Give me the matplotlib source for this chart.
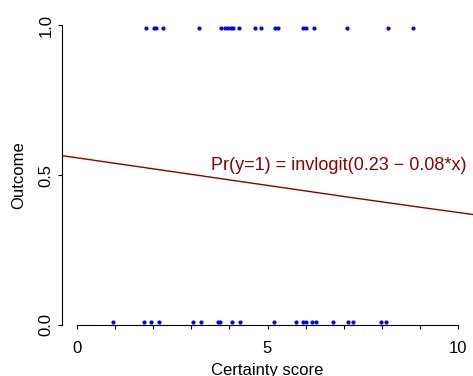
import matplotlib
matplotlib.use("Agg")
import matplotlib.pyplot as plt
import numpy as np

# certainty score of each respondent, split by outcome
x_outcome1 = [1.80, 2.02, 2.08, 2.25, 3.20, 3.79, 3.88, 3.96, 4.03, 4.10, 4.25,
              4.68, 4.84, 5.19, 5.28, 5.94, 6.01, 6.22, 7.10, 8.17, 8.83]
x_outcome0 = [0.95, 1.75, 1.95, 2.15, 3.04, 3.26, 3.70, 3.75, 4.06, 4.27, 5.18,
              5.76, 5.94, 6.00, 6.18, 6.27, 6.71, 7.11, 7.24, 7.98, 8.11]

# fitted logistic regression
coef_a = 0.23
coef_b = -0.074
fit_label = "Pr(y=1) = invlogit(0.23 \u2212 0.08*x)"

x_ticks = list(range(0, 11))
x_ticklabels = ["0", "", "", "", "", "5", "", "", "", "", "10"]
y_ticks = [0.0, 0.5, 1.0]
y_ticklabels = ["0.0", "0.5", "1.0"]

plt.rcParams["font.family"] = ["Liberation Sans", "DejaVu Sans"]

fig = plt.figure(figsize=(4.73, 3.76), dpi=100)
ax = fig.add_axes([62 / 473, 1 - 337 / 376, 411 / 473, 324 / 376])

# y plotted slightly off 0/1 like the original
ax.plot(x_outcome1, [0.99] * len(x_outcome1), "o", color="blue", markersize=3, markeredgewidth=0)
ax.plot(x_outcome0, [0.01] * len(x_outcome0), "o", color="blue", markersize=3, markeredgewidth=0)

xx = np.linspace(-0.4, 10.4, 200)
ax.plot(xx, 1 / (1 + np.exp(-(coef_a + coef_b * xx))), color="#8B0000", linewidth=1.0)
ax.text(3.51, 0.533, fit_label, color="#8B0000", fontsize=13, ha="left", va="center")

ax.set_xlim(-0.4, 10.4)
ax.set_ylim(-0.04, 1.04)
for s in ["top", "right"]:
    ax.spines[s].set_visible(False)
ax.spines["left"].set_bounds(0, 1)
ax.spines["bottom"].set_bounds(0, 10)
ax.spines["bottom"].set_position(("data", 0))
ax.set_xticks(x_ticks)
ax.set_xticklabels(x_ticklabels)
ax.set_yticks(y_ticks)
ax.set_yticklabels(y_ticklabels, rotation=90, va="center")
ax.tick_params(axis="both", length=3, width=0.8, labelsize=12)
ax.tick_params(axis="x", pad=8.5)
ax.tick_params(axis="y", pad=3)

ax.set_xlabel("Certainty score", fontsize=12, labelpad=5)
ax.set_ylabel("Outcome", fontsize=12, labelpad=9)

fig.savefig("out.png", dpi=100)
